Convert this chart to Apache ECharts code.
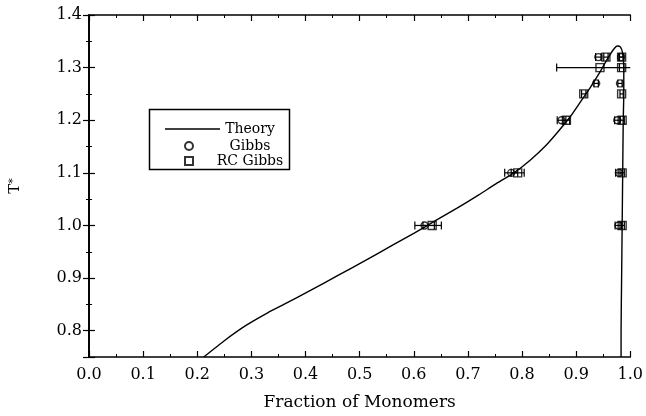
<!DOCTYPE html>
<html>
<head>
<meta charset="utf-8">
<script src="https://cdn.jsdelivr.net/npm/echarts@6/dist/echarts.min.js"></script>
<style>html,body{margin:0;padding:0;background:#fff}#c{width:646px;height:416px}</style>
</head>
<body>
<div id="c"></div>
<script>
// Theory curve (fraction of monomers, T*)
var theoryX = [0.212,0.25,0.29,0.33,0.36,0.41,0.46,0.51,0.56,0.60,0.64,0.68,0.72,0.75,0.785,0.815,0.845,0.868,0.89,0.908,0.926,0.943,0.957,0.968,0.976,0.982,0.986,0.988,0.988,0.987,0.986,0.985,0.984,0.983,0.983];
var theoryT = [0.75,0.781,0.81,0.834,0.85,0.877,0.905,0.933,0.962,0.985,1.009,1.033,1.058,1.078,1.10,1.124,1.153,1.18,1.208,1.235,1.262,1.29,1.315,1.333,1.341,1.339,1.327,1.30,1.25,1.20,1.10,1.00,0.90,0.80,0.75];

// Gibbs ensemble simulations (circles)
var gibbsX   = [0.620,0.978,0.780,0.979,0.873,0.976,0.937,0.981,0.941,0.983];
var gibbsT   = [1.00, 1.00, 1.10, 1.10, 1.20, 1.20, 1.27, 1.27, 1.32, 1.32];
var gibbsErr = [0.018,0.006,0.012,0.006,0.008,0.005,0.004,0.004,0.005,0.004];

// RC Gibbs simulations (squares)
var rcX   = [0.634,0.985,0.792,0.985,0.882,0.985,0.914,0.984,0.944,0.984,0.955,0.984];
var rcT   = [1.00, 1.00, 1.10, 1.10, 1.20, 1.20, 1.25, 1.25, 1.30, 1.30, 1.32, 1.32];
var rcErr = [0.017,0.004,0.012,0.004,0.006,0.004,0.004,0.003,0.080,0.004,0.004,0.004];

var xMin = 0, xMax = 1.0, yMin = 0.75, yMax = 1.4;
var FONT = 'DejaVu Serif';

function pairs(xs, ys){ return xs.map(function(v,i){ return [v, ys[i]]; }); }
function triples(xs, ys, es){ return xs.map(function(v,i){ return [v, ys[i], es[i]]; }); }

function errRender(params, api){
  var x = api.value(0), y = api.value(1), e = api.value(2);
  var lo = Math.max(xMin, x - e), hi = Math.min(xMax, x + e);
  var l = api.coord([lo, y]), r = api.coord([hi, y]);
  var h = 4, st = {stroke:'#000', lineWidth:1.2};
  var ch = [{type:'line', shape:{x1:l[0],y1:l[1],x2:r[0],y2:r[1]}, style:st}];
  if (x - e >= xMin) ch.push({type:'line', shape:{x1:l[0],y1:l[1]-h,x2:l[0],y2:l[1]+h}, style:st});
  if (x + e <= xMax) ch.push({type:'line', shape:{x1:r[0],y1:r[1]-h,x2:r[0],y2:r[1]+h}, style:st});
  return {type:'group', children:ch};
}

var axisLineStyle = {color:'#000', width:1.7};
function xAx(pos, labels){
  return {type:'value', position:pos, min:xMin, max:xMax, interval:0.1,
    axisLine:{show:true, lineStyle:axisLineStyle},
    axisTick:{show:true, inside:true, length:6, lineStyle:{color:'#000', width:1.2}},
    minorTick:{show:true, splitNumber:2, length:3, lineStyle:{color:'#000', width:1}},
    splitLine:{show:false}, minorSplitLine:{show:false},
    axisLabel:{show:labels, color:'#000', fontFamily:FONT, fontSize:16, margin:10,
      formatter:function(v){ return v.toFixed(1); }},
    name: labels ? 'Fraction of Monomers' : '', nameLocation:'middle', nameGap:37,
    nameTextStyle:{color:'#000', fontFamily:FONT, fontSize:17}
  };
}
function yAx(pos, labels){
  return {type:'value', position:pos, min:yMin, max:yMax, splitNumber:6,
    axisLine:{show:true, lineStyle:axisLineStyle},
    axisTick:{show:true, inside:true, length:6, lineStyle:{color:'#000', width:1.2}},
    minorTick:{show:true, splitNumber:2, length:3, lineStyle:{color:'#000', width:1}},
    splitLine:{show:false}, minorSplitLine:{show:false},
    axisLabel:{show:labels, showMinLabel:false, color:'#000', fontFamily:FONT, fontSize:16, margin:7,
      formatter:function(v){ return v.toFixed(1); }},
    name: labels ? '{t|T}{s|*}' : '', nameLocation:'middle', nameGap:66, nameRotate:90,
    nameTextStyle:{color:'#000', fontFamily:FONT, fontSize:15,
      rich:{t:{fontFamily:FONT, fontSize:15, color:'#000'}, s:{fontFamily:FONT, fontSize:11, color:'#000', verticalAlign:'top', padding:[0,0,4,0]}}}
  };
}

var chart = echarts.init(document.getElementById('c'), null, {renderer:'canvas'});
chart.setOption({
  animation:false,
  backgroundColor:'#fff',
  grid:{left:88, right:15, top:15, bottom:53, containLabel:false},
  xAxis:[xAx('bottom', true), xAx('top', false)],
  yAxis:[yAx('left', true), yAx('right', false)],
  graphic:[{type:'rect', left:147, top:107, shape:{width:140, height:60},
    style:{fill:'none', stroke:'#000', lineWidth:1.5}, z:10}],
  legend:[
    {data:[{name:'Theory', icon:'rect'}], left:160, top:117, itemWidth:55, itemHeight:1.5, orient:'vertical',
     selectedMode:false, formatter:'{t|{name}}',
     textStyle:{color:'#000', fontFamily:FONT, fontSize:14,
       rich:{t:{width:50, align:'center', fontFamily:FONT, fontSize:14, lineHeight:16, color:'#000'}}}},
    {data:['Gibbs','RC Gibbs'], left:179, top:134, itemWidth:8, itemHeight:8, itemGap:1,
     orient:'vertical', selectedMode:false, formatter:'{t|{name}}',
     textStyle:{color:'#000', fontFamily:FONT, fontSize:14,
       rich:{t:{width:104, align:'center', fontFamily:FONT, fontSize:14, lineHeight:16, color:'#000'}}}}
  ],
  series:[
    {name:'Theory', type:'line', data:pairs(theoryX, theoryT), smooth:0.2, showSymbol:false, symbol:'none',
     lineStyle:{color:'#000', width:1.4}, itemStyle:{color:'#000'}, z:2, clip:true},
    {name:'GibbsErr', type:'custom', renderItem:errRender, data:triples(gibbsX, gibbsT, gibbsErr), z:3, silent:true},
    {name:'RCErr', type:'custom', renderItem:errRender, data:triples(rcX, rcT, rcErr), z:3, silent:true},
    {name:'Gibbs', type:'scatter', symbol:'circle', symbolSize:7, data:pairs(gibbsX, gibbsT),
     itemStyle:{color:'rgba(255,255,255,0)', borderColor:'#000', borderWidth:1.4}, z:4},
    {name:'RC Gibbs', type:'scatter', symbol:'rect', symbolSize:8, data:pairs(rcX, rcT),
     itemStyle:{color:'rgba(255,255,255,0)', borderColor:'#000', borderWidth:1.4}, z:4}
  ]
});
</script>
</body>
</html>
